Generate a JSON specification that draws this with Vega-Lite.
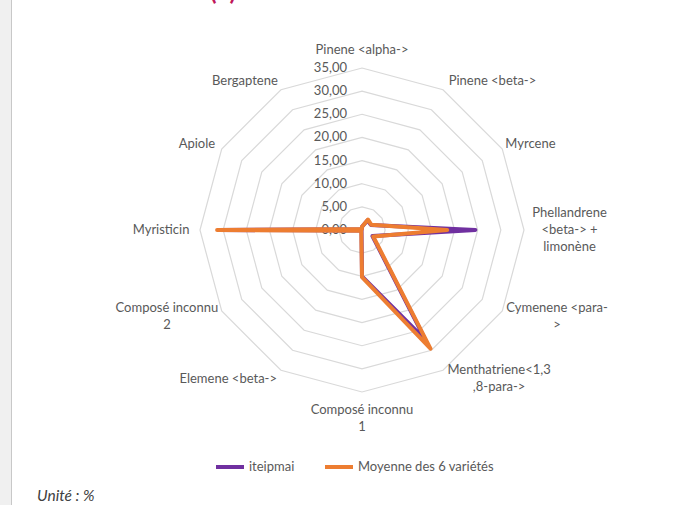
{
  "$schema": "https://vega.github.io/schema/vega-lite/v6.json",
  "width": 683,
  "height": 507,
  "autosize": {"type": "none"},
  "padding": {"left": 11, "top": -1, "right": 0, "bottom": 0},
  "background": "#f0f0f0",
  "config": {
    "view": {"stroke": "#c8c8c8", "fill": "white", "strokeWidth": 1},
    "font": "Lato",
    "legend": {
      "orient": "none",
      "legendX": 203,
      "legendY": 452,
      "direction": "horizontal",
      "symbolType": "stroke",
      "symbolStrokeWidth": 4,
      "symbolSize": 784,
      "labelFont": "Lato",
      "labelFontSize": 13,
      "labelColor": "#595959",
      "labelOffset": 3,
      "columnPadding": 22,
      "title": null
    }
  },
  "datasets": {
    "composants": [
      {"composant": "Pinene <alpha->", "iteipmai": 0.7, "Moyenne des 6 variétés": 0.7},
      {"composant": "Pinene <beta->", "iteipmai": 2.4, "Moyenne des 6 variétés": 2.6},
      {"composant": "Myrcene", "iteipmai": 2.2, "Moyenne des 6 variétés": 2.3},
      {"composant": "Phellandrene <beta-> + limonène", "iteipmai": 24.5, "Moyenne des 6 variétés": 18.4},
      {"composant": "Cymenene <para->", "iteipmai": 2.6, "Moyenne des 6 variétés": 2.8},
      {"composant": "Menthatriene<1,3,8-para->", "iteipmai": 27.4, "Moyenne des 6 variétés": 29.6},
      {"composant": "Composé inconnu 1", "iteipmai": 10.0, "Moyenne des 6 variétés": 10.2},
      {"composant": "Elemene <beta->", "iteipmai": 0.2, "Moyenne des 6 variétés": 0.3},
      {"composant": "Composé inconnu 2", "iteipmai": 0.2, "Moyenne des 6 variétés": 0.3},
      {"composant": "Myristicin", "iteipmai": 31.0, "Moyenne des 6 variétés": 31.3},
      {"composant": "Apiole", "iteipmai": 0.3, "Moyenne des 6 variétés": 0.4},
      {"composant": "Bergaptene", "iteipmai": 0.1, "Moyenne des 6 variétés": 0.1}
    ],
    "niveaux": [
      {"lv": 0}, {"lv": 5}, {"lv": 10}, {"lv": 15}, {"lv": 20}, {"lv": 25}, {"lv": 30}, {"lv": 35}
    ],
    "notes": [
      {"texte": "Unité : %"}
    ],
    "titre": [
      {"texte": "(b)"}
    ]
  },
  "layer": [
    {
      "data": {"name": "niveaux"},
      "transform": [
        {"filter": "datum.lv > 0"},
        {"calculate": "[0,1,2,3,4,5,6,7,8,9,10,11]", "as": "k"},
        {"flatten": ["k"]},
        {"calculate": "datum.k * PI / 6", "as": "a"},
        {"calculate": "datum.lv * sin(datum.a)", "as": "gx"},
        {"calculate": "datum.lv * cos(datum.a)", "as": "gy"}
      ],
      "mark": {"type": "line", "interpolate": "linear-closed", "stroke": "#d9d9d9", "strokeWidth": 1.2},
      "encoding": {
        "x": {"field": "gx", "type": "quantitative", "scale": {"domain": [-75.83, 71.73], "nice": false, "zero": false}, "axis": null},
        "y": {"field": "gy", "type": "quantitative", "scale": {"domain": [-59.63, 49.91], "nice": false, "zero": false}, "axis": null},
        "detail": {"field": "lv", "type": "nominal"},
        "order": {"field": "k", "type": "quantitative"}
      }
    },
    {
      "data": {"name": "niveaux"},
      "transform": [
        {"calculate": "replace(format(datum.lv, '.2f'), '.', ',')", "as": "etiq"}
      ],
      "mark": {"type": "text", "align": "right", "baseline": "middle", "dx": -15, "font": "Lato", "fontSize": 13, "color": "#595959"},
      "encoding": {
        "x": {"datum": 0, "type": "quantitative"},
        "y": {"field": "lv", "type": "quantitative"},
        "text": {"field": "etiq", "type": "nominal"}
      }
    },
    {
      "data": {"name": "composants"},
      "transform": [
        {"window": [{"op": "row_number", "as": "idx"}]},
        {"fold": ["iteipmai", "Moyenne des 6 variétés"], "as": ["serie", "val"]},
        {"filter": "datum.serie == 'iteipmai'"},
        {"calculate": "(datum.idx - 1) * PI / 6", "as": "a"},
        {"calculate": "datum.val * sin(datum.a)", "as": "px"},
        {"calculate": "datum.val * cos(datum.a)", "as": "py"}
      ],
      "mark": {"type": "line", "interpolate": "linear-closed", "strokeWidth": 4, "strokeJoin": "round", "strokeCap": "round"},
      "encoding": {
        "x": {"field": "px", "type": "quantitative"},
        "y": {"field": "py", "type": "quantitative"},
        "order": {"field": "idx", "type": "quantitative"},
        "color": {"field": "serie", "type": "nominal", "scale": {"domain": ["iteipmai", "Moyenne des 6 variétés"], "range": ["#7030A0", "#ED7D31"]}}
      }
    },
    {
      "data": {"name": "composants"},
      "transform": [
        {"window": [{"op": "row_number", "as": "idx"}]},
        {"fold": ["iteipmai", "Moyenne des 6 variétés"], "as": ["serie", "val"]},
        {"filter": "datum.serie == 'Moyenne des 6 variétés'"},
        {"calculate": "(datum.idx - 1) * PI / 6", "as": "a"},
        {"calculate": "datum.val * sin(datum.a)", "as": "px"},
        {"calculate": "datum.val * cos(datum.a)", "as": "py"}
      ],
      "mark": {"type": "line", "interpolate": "linear-closed", "strokeWidth": 4, "strokeJoin": "round", "strokeCap": "round"},
      "encoding": {
        "x": {"field": "px", "type": "quantitative"},
        "y": {"field": "py", "type": "quantitative"},
        "order": {"field": "idx", "type": "quantitative"},
        "color": {"field": "serie", "type": "nominal"}
      }
    },
    {
      "data": {"name": "composants"},
      "transform": [
        {"window": [{"op": "row_number", "as": "idx"}]},
        {"calculate": "replace(replace(replace(replace(datum.composant, 'inconnu ', 'inconnu|'), '1,3,', '1,3|,'), 'Cymenene <para->', 'Cymenene <para-|>'), 'Phellandrene <beta-> + limonène', 'Phellandrene|<beta-> +|limonène')", "as": "lab"},
        {"calculate": "(datum.idx - 1) * PI / 6", "as": "a"},
        {"calculate": "sin(datum.a) * 36.2 + (sin(datum.a) > 0.1 ? 1 : (sin(datum.a) < -0.1 ? -1 : 0)) * length(split(datum.lab, '|')[0]) * 0.72", "as": "lx"},
        {"calculate": "cos(datum.a) * 37.16 + (cos(datum.a) > 0.95 ? 1 : (cos(datum.a) < -0.95 ? -1 : 0)) * length(split(datum.lab, '|')) * 1.73 + (length(split(datum.lab, '|')) - 1) * 1.836", "as": "ly"}
      ],
      "mark": {"type": "text", "align": "center", "baseline": "middle", "lineBreak": "|", "lineHeight": 17, "font": "Lato", "fontSize": 13, "color": "#595959"},
      "encoding": {
        "x": {"field": "lx", "type": "quantitative"},
        "y": {"field": "ly", "type": "quantitative"},
        "text": {"field": "lab", "type": "nominal"}
      }
    },
    {
      "data": {"name": "notes"},
      "mark": {"type": "text", "align": "left", "baseline": "middle", "font": "Lato", "fontStyle": "italic", "fontSize": 15.5, "color": "#404040"},
      "encoding": {
        "x": {"datum": -70.21, "type": "quantitative"},
        "y": {"datum": -57.47, "type": "quantitative"},
        "text": {"field": "texte", "type": "nominal"}
      }
    },
    {
      "data": {"name": "titre"},
      "mark": {"type": "text", "align": "center", "baseline": "alphabetic", "font": "Lato", "fontWeight": "bold", "fontSize": 24, "color": "#C0185A"},
      "encoding": {
        "x": {"datum": -30.0, "type": "quantitative"},
        "y": {"datum": 49.8, "type": "quantitative"},
        "text": {"field": "texte", "type": "nominal"}
      }
    }
  ]
}
